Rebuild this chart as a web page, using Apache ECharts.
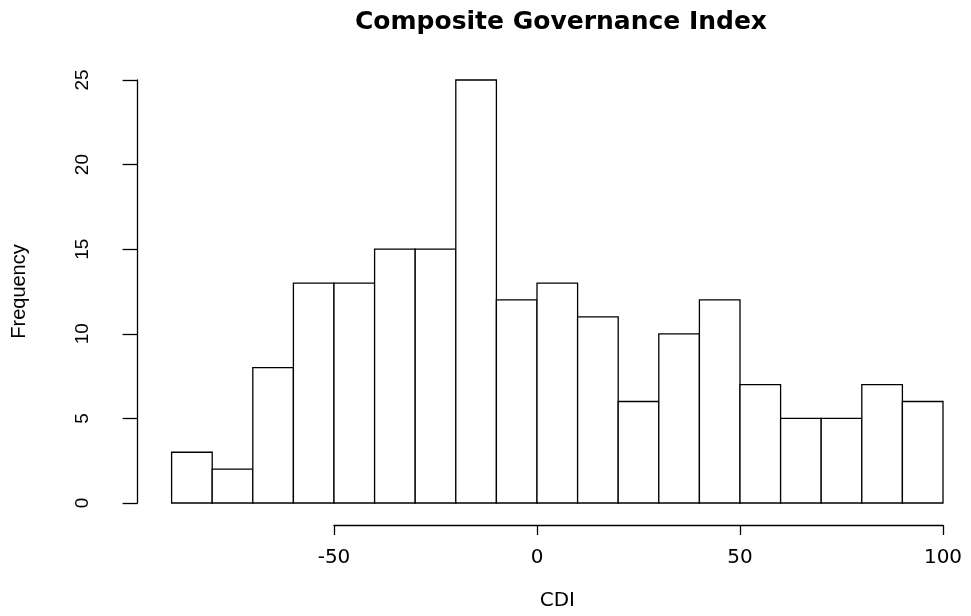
<!DOCTYPE html>
<html><head><meta charset="utf-8">
<script src="https://cdn.jsdelivr.net/npm/echarts@6/dist/echarts.min.js"></script>
<style>html,body{margin:0;padding:0;background:#fff}#c{width:971px;height:616px}</style>
</head><body><div id="c"></div>
<script>
// Histogram bins (left edges / right edges) and counts
const binStarts = [-90,-80,-70,-60,-50,-40,-30,-20,-10,0,10,20,30,40,50,60,70,80,90];
const binEnds   = [-80,-70,-60,-50,-40,-30,-20,-10,0,10,20,30,40,50,60,70,80,90,100];
const counts    = [3,2,8,13,13,15,15,25,12,13,11,6,10,12,7,5,5,7,6];
const xTicks = [-50, 0, 50, 100];
const yTicks = [0, 5, 10, 15, 20, 25];

const data = binStarts.map((s, i) => [s, binEnds[i], counts[i]]);
const chart = echarts.init(document.getElementById('c'), null, {renderer: 'canvas'});
chart.setOption({
  backgroundColor: '#fff',
  animation: false,
  title: {
    text: 'Composite Governance Index',
    left: 556, top: 5, textAlign: 'center',
    textStyle: {fontFamily: 'DejaVu Sans', fontWeight: 'bold', fontSize: 25, color: '#000'}
  },
  grid: [
    {left: 171.6, right: 28, top: 80, bottom: 108},
    {left: 334, right: 28, top: 80, bottom: 91}
  ],
  xAxis: [
    {gridIndex: 0, type: 'value', min: -90, max: 100,
     name: 'CDI', nameLocation: 'middle', nameGap: 88,
     nameTextStyle: {fontFamily: 'DejaVu Sans', fontSize: 20, color: '#000'},
     axisLine: {show: false, onZero: false}, axisTick: {show: false}, axisLabel: {show: false}, splitLine: {show: false}},
    {gridIndex: 1, type: 'value', min: xTicks[0], max: xTicks[xTicks.length-1], interval: 50,
     axisLine: {show: true, onZero: false, lineStyle: {color: '#000', width: 1.3}},
     axisTick: {show: true, length: 10, lineStyle: {color: '#000', width: 1.3}},
     axisLabel: {show: true, margin: 23, fontFamily: 'DejaVu Sans', fontSize: 20, color: '#000'},
     splitLine: {show: false}}
  ],
  yAxis: [
    {gridIndex: 0, type: 'value', min: yTicks[0], max: yTicks[yTicks.length-1], interval: 5, offset: 34,
     name: 'Frequency', nameLocation: 'middle', nameGap: 108,
     nameTextStyle: {fontFamily: 'Liberation Sans', fontSize: 20, color: '#000'},
     axisLine: {show: true, onZero: false, lineStyle: {color: '#000', width: 1.3}},
     axisTick: {show: true, length: 15, lineStyle: {color: '#000', width: 1.3}},
     axisLabel: {show: true, rotate: 90, margin: 45, fontFamily: 'Liberation Sans', fontSize: 19, color: '#000'},
     splitLine: {show: false}},
    {gridIndex: 1, type: 'value', show: false}
  ],
  series: [{
    type: 'custom',
    xAxisIndex: 0, yAxisIndex: 0,
    data: data,
    encode: {x: [0, 1], y: 2},
    renderItem: function (params, api) {
      const p0 = api.coord([api.value(0), 0]);
      const p1 = api.coord([api.value(1), api.value(2)]);
      return {
        type: 'rect',
        shape: {x: p0[0], y: p1[1], width: p1[0] - p0[0], height: p0[1] - p1[1]},
        style: {fill: '#fff', stroke: '#000', lineWidth: 1.3}
      };
    }
  }]
});
</script></body></html>
